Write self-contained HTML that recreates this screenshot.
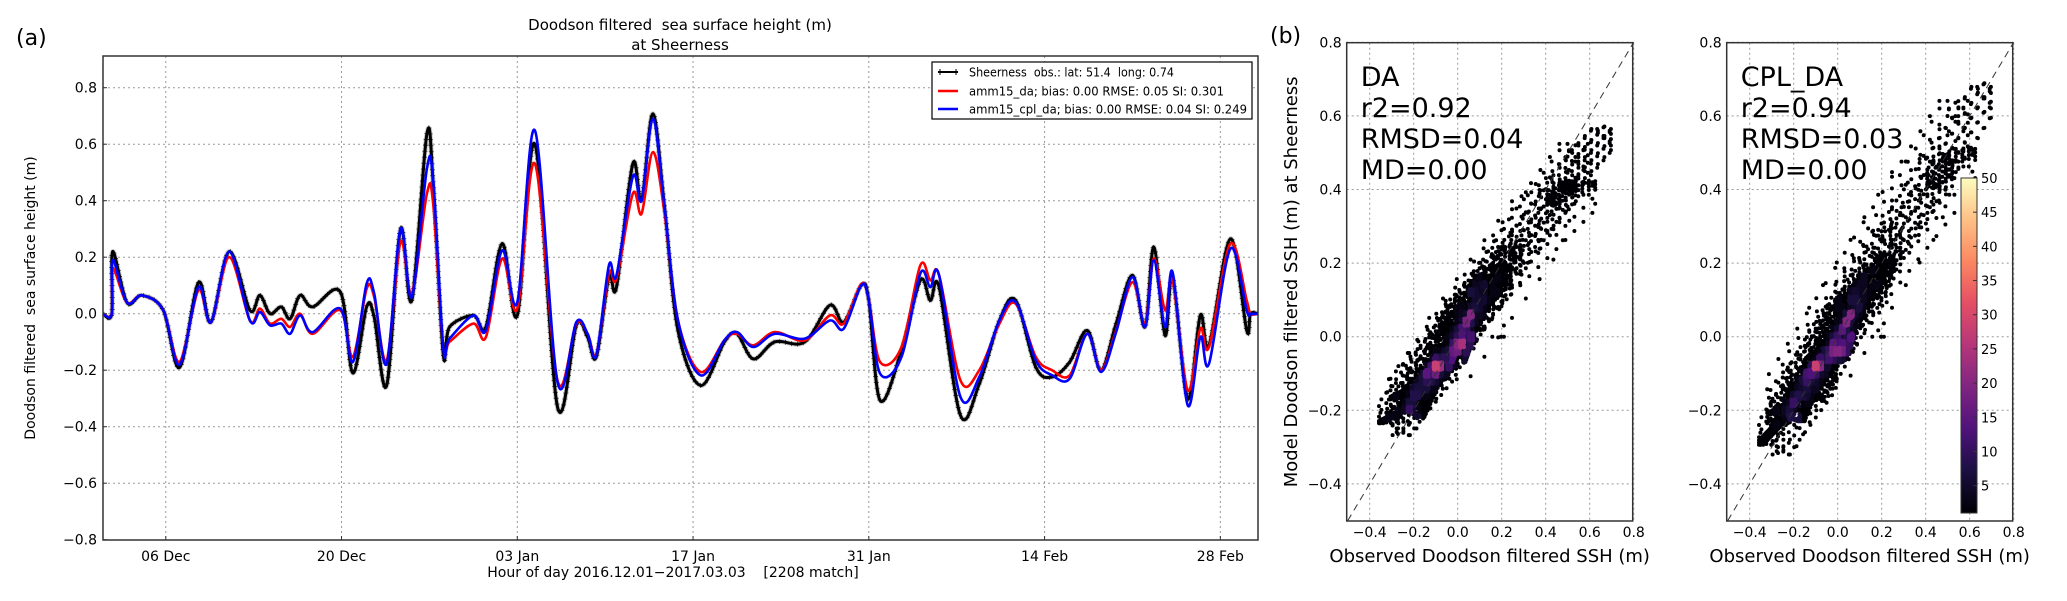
<!DOCTYPE html>
<html><head><meta charset="utf-8">
<style>
html,body{margin:0;padding:0;background:#fff;}
svg{display:block;font-family:"DejaVu Sans","Liberation Sans",sans-serif;}
</style></head>
<body>
<svg id="fig" width="2067" height="601" viewBox="0 0 2067 601" xmlns="http://www.w3.org/2000/svg">
<rect width="2067" height="601" fill="#fff"/>
<g id="ts"></g>
<g id="sc1"></g>
<g id="sc2"></g>
</svg>
<script>
// ---- time series data (days since 2016-12-01) ----
const days = [0,0.7,0.77,1.9,3.1,4.8,6.1,7.6,8.6,10.05,11.7,12.5,13.3,14.2,14.9,15.7,16.7,18.9,19.9,21.0,21.6,22.6,23.7,24.6,25.8,26.3,27.1,27.6,29.5,30.5,31.8,33.0,34.4,36.2,37.7,38.6,39.3,40.3,40.9,42.2,42.9,43.8,44.7,45.8,47.6,49.5,50.5,51.8,53.5,55.9,57.9,59.0,60.4,61.0,61.9,63.6,65.1,65.9,66.6,68.3,69.8,71.4,72.7,74.3,75.6,77.0,78.4,79.5,80.7,82.0,83.0,83.7,84.6,85.2,86.4,87.4,88.1,89.8,91.1,91.4,92];
const obsSeries = [0,0,0.22,0.04,0.065,0.012,-0.19,0.11,-0.03,0.22,0.012,0.065,0,0.024,-0.018,0.065,0.024,0.077,-0.21,0.024,-0.012,-0.254,0.30,0.047,0.637,0.46,-0.142,-0.047,-0.006,-0.047,0.248,-0.006,0.60,-0.33,-0.041,-0.083,-0.153,0.13,0.094,0.531,0.401,0.708,0.389,-0.059,-0.254,-0.1,-0.071,-0.16,-0.1,-0.1,0.03,-0.03,0.10,0.047,-0.307,-0.13,0.118,0.047,0.094,-0.36,-0.248,-0.024,0.047,-0.189,-0.224,-0.171,-0.059,-0.2,-0.035,0.136,-0.047,0.236,-0.077,0.13,-0.301,-0.006,-0.112,0.265,-0.059,0,0];
const daSeries = [0,0,0.16,0.04,0.065,0.012,-0.17,0.083,-0.03,0.20,-0.024,0.018,-0.035,-0.018,-0.047,0,-0.071,0.012,-0.153,0.088,0.059,-0.165,0.254,0.071,0.425,0.389,-0.118,-0.1,-0.035,-0.083,0.195,0.018,0.531,-0.236,-0.035,-0.071,-0.142,0.142,0.124,0.425,0.354,0.572,0.366,-0.024,-0.206,-0.094,-0.071,-0.112,-0.065,-0.094,-0.006,-0.035,0.106,0.047,-0.171,-0.118,0.171,0.118,0.136,-0.236,-0.2,-0.035,0.035,-0.153,-0.2,-0.218,-0.071,-0.2,-0.059,0.112,-0.035,0.195,0.012,0.118,-0.271,-0.053,-0.118,0.248,0.047,0,0];
const cplSeries = [0,0,0.19,0.04,0.065,0.012,-0.18,0.094,-0.03,0.22,-0.024,0.006,-0.041,-0.035,-0.071,-0.006,-0.065,0.018,-0.171,0.106,0.071,-0.177,0.30,0.059,0.513,0.472,-0.118,-0.088,-0.006,-0.059,0.224,0.041,0.649,-0.242,-0.03,-0.071,-0.147,0.171,0.136,0.485,0.401,0.69,0.389,-0.024,-0.218,-0.094,-0.065,-0.118,-0.071,-0.088,-0.024,-0.053,0.10,0.047,-0.212,-0.153,0.142,0.094,0.136,-0.295,-0.224,-0.024,0.041,-0.165,-0.218,-0.230,-0.071,-0.206,-0.065,0.13,-0.047,0.189,-0.047,0.147,-0.324,-0.083,-0.177,0.230,0.012,0,0];
const yTicks = [-0.8,-0.6,-0.4,-0.2,0.0,0.2,0.4,0.6,0.8];
const xTickDays = [5,19,33,47,61,75,89];
const xTickLabels = ["06 Dec","20 Dec","03 Jan","17 Jan","31 Jan","14 Feb","28 Feb"];
const legendLabels = ["Sheerness  obs.: lat: 51.4  long: 0.74","amm15_da; bias: 0.00 RMSE: 0.05 SI: 0.301","amm15_cpl_da; bias: 0.00 RMSE: 0.04 SI: 0.249"];
// ---- scatter panels ----
const scTicks = [-0.4,-0.2,0.0,0.2,0.4,0.6,0.8];
const cbTicks = [5,10,15,20,25,30,35,40,45,50];
const statsDA = ["DA","r2=0.92","RMSD=0.04","MD=0.00"];
const statsCPL = ["CPL_DA","r2=0.94","RMSD=0.03","MD=0.00"];

const NS="http://www.w3.org/2000/svg";
function mk(parent,tag,attrs,text){const e=document.createElementNS(NS,tag);for(const k in attrs)e.setAttribute(k,attrs[k]);if(text!==undefined)e.textContent=text;parent.appendChild(e);return e;}
const fmt=v=>(v<0?"\u2212":"")+Math.abs(v).toFixed(1);

// ===== time series =====
const ts=document.getElementById('ts');
const L=103,R=1258,T=56,B=540;
const xD=d=>L+d*(R-L)/92;
const yV=v=>313.7-v*282.5;
yTicks.forEach(v=>{if(v>-0.8){const g=mk(ts,'line',{x1:L,x2:R,y1:yV(v),y2:yV(v),stroke:'#999','stroke-width':1,'stroke-dasharray':'2,3'});

}});
xTickDays.forEach(d=>{const g=mk(ts,'line',{x1:xD(d),x2:xD(d),y1:T,y2:B,stroke:'#999','stroke-width':1,'stroke-dasharray':'2,3'});

});
function smooth(xs,ys){let p=`M${xs[0]},${ys[0]}`;for(let i=0;i<xs.length-1;i++){const x0=xs[Math.max(0,i-1)],y0=ys[Math.max(0,i-1)],x1=xs[i],y1=ys[i],x2=xs[i+1],y2=ys[i+1],x3=xs[Math.min(xs.length-1,i+2)],y3=ys[Math.min(xs.length-1,i+2)];
const c1x=x1+(x2-x0)/6,c1y=y1+(y2-y0)/6,c2x=x2-(x3-x1)/6,c2y=y2-(y3-y1)/6;p+=` C${c1x.toFixed(1)},${c1y.toFixed(1)} ${c2x.toFixed(1)},${c2y.toFixed(1)} ${x2.toFixed(1)},${y2.toFixed(1)}`;}return p;}
function interp(arr,d){let i=0;while(i<days.length-2&&days[i+1]<d)i++;const u=(d-days[i])/(days[i+1]-days[i]);return arr[i]+u*(arr[i+1]-arr[i]);}
const X=days.map(xD);
const clipR=mk(ts,'clipPath',{id:'tsclip'});mk(clipR,'rect',{x:L,y:T,width:R-L,height:B-T});
const obPath=smooth(X,obsSeries.map(yV));
const ob=mk(ts,'path',{d:obPath,fill:'none',stroke:'#666','stroke-width':5,'stroke-opacity':0.3,'clip-path':'url(#tsclip)'});


const obl=mk(ts,'path',{d:obPath,fill:'none',stroke:'#000','stroke-width':3,'clip-path':'url(#tsclip)'});


(function(){let d='';const len=obl.getTotalLength();for(let s=0;s<len;s+=6){const p=obl.getPointAtLength(s);d+=`M${(p.x-2.5).toFixed(1)},${p.y.toFixed(1)}h5M${p.x.toFixed(1)},${(p.y-2.5).toFixed(1)}v5`;}
const m=mk(ts,'path',{d:d,stroke:'#000','stroke-width':0.6,fill:'none','clip-path':'url(#tsclip)'});

})();
const dal=mk(ts,'path',{d:smooth(X,daSeries.map(yV)),fill:'none',stroke:'#ff0000','stroke-width':2.6,'clip-path':'url(#tsclip)'});


const cpl=mk(ts,'path',{d:smooth(X,cplSeries.map(yV)),fill:'none',stroke:'#0000ff','stroke-width':2.6,'clip-path':'url(#tsclip)'});


const box=mk(ts,'rect',{x:L,y:T,width:R-L,height:B-T,fill:'none',stroke:'#333','stroke-width':1.5});


yTicks.forEach(v=>{const t=mk(ts,'text',{x:97,y:yV(v)+5,'text-anchor':'end','font-size':14,fill:'#000'},v.toFixed(1).replace('-','\u2212'));


mk(ts,'line',{x1:L,x2:L+4,y1:yV(v),y2:yV(v),stroke:'#333'});});
xTickDays.forEach((d,i)=>{const t=mk(ts,'text',{x:xD(d),y:561,'text-anchor':'middle','font-size':14,fill:'#000'},xTickLabels[i]);


mk(ts,'line',{x1:xD(d),x2:xD(d),y1:B,y2:B-4,stroke:'#333'});});
let t;
t=mk(ts,'text',{x:673,y:577,'text-anchor':'middle','font-size':14,style:'white-space:pre'},"Hour of day 2016.12.01\u22122017.03.03    [2208 match]");


t=mk(ts,'text',{x:0,y:0,'text-anchor':'middle','font-size':14,transform:'translate(35,298) rotate(-90)',style:'white-space:pre'},"Doodson filtered  sea surface height (m)");


t=mk(ts,'text',{x:680,y:30,'text-anchor':'middle','font-size':15,style:'white-space:pre'},"Doodson filtered  sea surface height (m)");


t=mk(ts,'text',{x:680,y:50,'text-anchor':'middle','font-size':15},"at Sheerness");


t=mk(ts,'text',{x:16,y:45,'font-size':22},"(a)");


const lg=mk(ts,'g',{});


mk(lg,'rect',{x:932,y:62,width:320,height:57,fill:'#fff',stroke:'#000','stroke-width':1.2});
const lcol=['#000','#ff0000','#0000ff'];const ly=[72,91,109];
legendLabels.forEach((s,i)=>{const e=mk(lg,'g',{});


mk(e,'line',{x1:938,x2:958,y1:ly[i],y2:ly[i],stroke:lcol[i],'stroke-width':i?2.5:2});
if(i===0){mk(e,'line',{x1:940,x2:940,y1:ly[i]-3,y2:ly[i]+3,stroke:'#000'});mk(e,'line',{x1:956,x2:956,y1:ly[i]-3,y2:ly[i]+3,stroke:'#000'});}
const tx=mk(e,'text',{x:969,y:ly[i]+4.5,'font-size':12,style:'white-space:pre'},s);
const widths=[205,255,278];tx.setAttribute('textLength',widths[i]);tx.setAttribute('lengthAdjust','spacingAndGlyphs');});

// ===== scatter panels =====
const magma=[[0,0,0,4],[0.13,28,16,68],[0.25,79,18,123],[0.38,129,37,129],[0.5,181,54,122],[0.63,229,80,100],[0.75,251,135,97],[0.88,254,194,135],[1,252,253,191]];
function cmap(f){f=Math.max(0,Math.min(1,f));for(let i=0;i<magma.length-1;i++){const a=magma[i],b=magma[i+1];if(f<=b[0]){const u=(f-a[0])/(b[0]-a[0]);return `rgb(${Math.round(a[1]+u*(b[1]-a[1]))},${Math.round(a[2]+u*(b[2]-a[2]))},${Math.round(a[3]+u*(b[3]-a[3]))})`;}}return 'rgb(252,253,191)';}

function scatter(gid,ox,model,stats,ylabel,cbar){
  const g=document.getElementById(gid);
  const PL=1346.7+ox,PR=1632.7+ox,PT=42.7,PB=521;
  const sx=v=>1457.7+ox+v*220, sy=v=>336.7-v*368;
  scTicks.forEach(v=>{
    const a=mk(g,'line',{x1:PL,x2:PR,y1:sy(v),y2:sy(v),stroke:'#999','stroke-dasharray':'2,3'});
    
    
    const b=mk(g,'line',{x1:sx(v),x2:sx(v),y1:PT,y2:PB,stroke:'#999','stroke-dasharray':'2,3'});
    
    
  });
  const pts=[];const lags=[-0.25,-0.12,0,0.12,0.25];
  for(let h=18;h<=2196;h+=2){const d=h/24;const o=interp(obsSeries,d);
    lags.forEach(l=>{const m=interp(model,Math.min(92,Math.max(0,d+l)));pts.push([o,m]);});}
  const key=p=>Math.round(p[0]/0.02)+','+Math.round(p[1]/0.02);
  const bins={};pts.forEach(p=>{const k=key(p);bins[k]=(bins[k]||0)+1;});
  const groups={};
  pts.forEach(p=>{const c=bins[key(p)];const lvl=Math.min(20,Math.floor(Math.max(0,(c-8))/6));(groups[lvl]=groups[lvl]||[]).push(p);});
  Object.keys(groups).sort((a,b)=>a-b).forEach(lvl=>{
    let d='';groups[lvl].forEach(p=>{d+=`M${sx(p[0]).toFixed(1)},${sy(p[1]).toFixed(1)}h0`;});
    const pg=mk(g,'path',{d:d,stroke:cmap(lvl/20*0.55),'stroke-width':4,'stroke-linecap':'round',fill:'none'});
    
    
  });
  const dl=mk(g,'line',{x1:sx(-0.5),y1:sy(-0.5),x2:sx(0.8),y2:sy(0.8),stroke:'#333','stroke-dasharray':'7,5','stroke-width':1});
  
  
  const bx=mk(g,'rect',{x:PL,y:PT,width:PR-PL,height:PB-PT,fill:'none',stroke:'#333','stroke-width':1.5});
  
  
  scTicks.forEach(v=>{
    const a=mk(g,'text',{x:PL-5,y:sy(v)+5,'text-anchor':'end','font-size':14},fmt(v));
    
    
    const b=mk(g,'text',{x:sx(v),y:537,'text-anchor':'middle','font-size':14},fmt(v));
    
    
  });
  const xl=mk(g,'text',{x:(PL+PR)/2,y:562,'text-anchor':'middle','font-size':18},"Observed Doodson filtered SSH (m)");
  
  
  if(ylabel){const yl=mk(g,'text',{x:0,y:0,'text-anchor':'middle','font-size':18,transform:`translate(1297,${(PT+PB)/2}) rotate(-90)`},ylabel);
    
    }
  stats.forEach((s,i)=>{const st=mk(g,'text',{x:PL+14,y:86+i*31,'font-size':27},s);
    
    });
  if(cbar){
    const cx=1961,cw=16,ct=178,cb=513;
    const grad=mk(g,'linearGradient',{id:'mg',x1:0,y1:1,x2:0,y2:0});
    magma.forEach(s=>mk(grad,'stop',{offset:s[0],'stop-color':`rgb(${s[1]},${s[2]},${s[3]})`}));
    const r=mk(g,'rect',{x:cx,y:ct,width:cw,height:cb-ct,fill:'url(#mg)',stroke:'#333','stroke-width':1});
    
    
    const cy=v=>cb-(v-1)/49*(cb-ct);
    cbTicks.forEach(v=>{mk(g,'line',{x1:cx+cw-4,x2:cx+cw,y1:cy(v),y2:cy(v),stroke:'#333'});
      const l=mk(g,'text',{x:cx+cw+4,y:cy(v)+5,'font-size':13},String(v));
      
      });
  }
}
scatter('sc1',0,daSeries,statsDA,"Model Doodson filtered SSH (m) at Sheerness",false);
scatter('sc2',380,cplSeries,statsCPL,null,true);
t=mk(document.getElementById('sc1'),'text',{x:1270,y:43,'font-size':22},"(b)");


</script>
</body></html>
